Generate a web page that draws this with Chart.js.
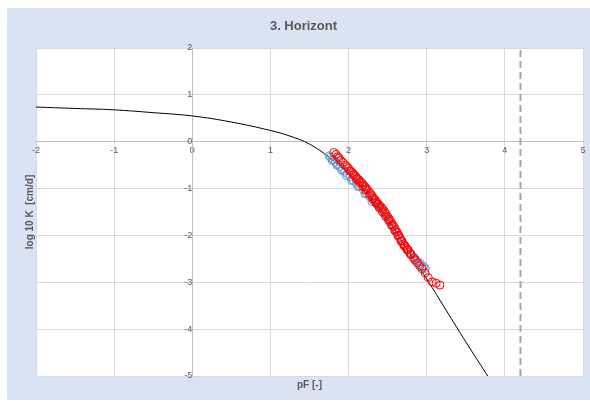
<!DOCTYPE html>
<html>
<head>
<meta charset="utf-8">
<script src="https://cdn.jsdelivr.net/npm/chart.js@4"></script>
<style>
  html, body { margin: 0; padding: 0; background: #fff; }
  #wrap { position: absolute; left: 7px; top: 8px; width: 583px; height: 392px; background: #dae3f3; }
</style>
</head>
<body>
<div id="wrap"><canvas id="chart"></canvas></div>
<script>
// fitted conductivity curve
const curveX = [-2, -1.5, -1, -0.5, 0, 0.5, 1, 1.25, 1.5, 1.75, 2, 2.25, 2.5, 2.75, 3, 3.25, 3.5, 3.8];
const curveY = [0.74, 0.71, 0.68, 0.62, 0.55, 0.42, 0.24, 0.12, -0.05, -0.33, -0.68, -1.1, -1.65, -2.3, -2.93, -3.6, -4.27, -5.05];

// measured points, red series
const redX = [1.81, 1.84, 1.86, 1.88, 1.90, 1.93, 1.96, 1.98, 2.00, 2.03, 2.05, 2.07, 2.09, 2.11, 2.13, 2.15, 2.17, 2.19, 2.21, 2.23,
  2.25, 2.28, 2.30, 2.32, 2.34, 2.36, 2.38, 2.40, 2.42, 2.44, 2.46, 2.48, 2.50, 2.52, 2.54, 2.56, 2.58, 2.60, 2.62, 2.64,
  2.66, 2.68, 2.70, 2.72, 2.74, 2.76, 2.78, 2.80, 2.83, 2.85, 2.88, 2.91, 2.94, 2.98, 3.02, 3.07, 3.12, 3.17,
  2.01, 2.06, 2.10, 2.14, 2.18, 2.22, 2.27, 2.31, 2.35, 2.39, 2.43, 2.47, 2.51, 2.55, 2.59, 2.63, 2.67, 2.71, 2.75, 2.79];
const redY = [-0.23, -0.27, -0.32, -0.35, -0.40, -0.44, -0.50, -0.53, -0.57, -0.63, -0.66, -0.70, -0.74, -0.78, -0.81, -0.85, -0.88, -0.92, -0.96, -1.00,
  -1.04, -1.10, -1.15, -1.20, -1.24, -1.29, -1.33, -1.37, -1.40, -1.44, -1.49, -1.54, -1.60, -1.65, -1.70, -1.76, -1.81, -1.87, -1.93, -1.99,
  -2.05, -2.11, -2.18, -2.22, -2.27, -2.31, -2.36, -2.41, -2.48, -2.52, -2.58, -2.65, -2.71, -2.80, -2.90, -2.99, -3.02, -3.06,
  -0.62, -0.71, -0.80, -0.87, -0.95, -1.03, -1.13, -1.22, -1.31, -1.40, -1.49, -1.58, -1.67, -1.78, -1.89, -2.00, -2.12, -2.22, -2.31, -2.40];

// measured points, blue series
const blueX = [1.75, 1.77, 1.80, 1.83, 1.86, 1.89, 1.92, 1.95, 1.98, 2.02, 2.06, 2.10, 2.14, 2.19, 2.23, 2.27, 2.32,
  2.36, 2.40, 2.44, 2.48, 2.52, 2.56, 2.60, 2.64, 2.68, 2.72, 2.76, 2.80, 2.84, 2.88, 2.92, 2.96, 2.98,
  1.79, 1.85, 1.91, 1.97, 2.04, 2.12, 2.21, 2.30, 2.86, 2.90, 2.94];
const blueY = [-0.30, -0.33, -0.38, -0.43, -0.48, -0.53, -0.58, -0.63, -0.68, -0.75, -0.82, -0.89, -0.95, -1.03, -1.10, -1.17, -1.25,
  -1.33, -1.42, -1.51, -1.61, -1.71, -1.81, -1.92, -2.02, -2.12, -2.22, -2.31, -2.40, -2.47, -2.54, -2.60, -2.66, -2.70,
  -0.40, -0.50, -0.61, -0.72, -0.83, -0.96, -1.11, -1.28, -2.55, -2.62, -2.68];

// wilting point marker (pF 4.2)
const wiltX = [4.2, 4.2];
const wiltY = [-5, 2];

const xTicks = [-2, -1, 0, 1, 2, 3, 4, 5];
const yTicks = [-5, -4, -3, -2, -1, 0, 1, 2];

const pts = (xs, ys) => xs.map((x, i) => ({ x: x, y: ys[i] }));

const plotBg = {
  id: 'plotBg',
  beforeDraw(chart) {
    const a = chart.chartArea;
    const ctx = chart.ctx;
    ctx.save();
    ctx.fillStyle = '#ffffff';
    ctx.fillRect(a.left, a.top, a.right - a.left, a.bottom - a.top);
    ctx.restore();
  }
};

const txt = '#595959';
const fam = "'Liberation Sans', Arial, sans-serif";

new Chart(document.getElementById('chart'), {
  type: 'scatter',
  data: {
    datasets: [
      {
        label: 'rot',
        data: pts(redX, redY),
        pointStyle: 'circle',
        pointRadius: 4,
        borderColor: '#ff0000',
        backgroundColor: 'rgba(0,0,0,0)',
        borderWidth: 1
      },
      {
        label: 'blau',
        data: pts(blueX, blueY),
        pointRadius: 4,
        borderColor: '#5b9bd5',
        backgroundColor: 'rgba(0,0,0,0)',
        borderWidth: 1
      },
      {
        label: 'Kurve',
        data: pts(curveX, curveY),
        showLine: true,
        pointRadius: 0,
        borderColor: '#000000',
        borderWidth: 1,
        tension: 0.4
      },
      {
        label: 'pF 4.2',
        data: pts(wiltX, wiltY),
        showLine: true,
        pointRadius: 0,
        borderColor: '#a6a6a6',
        borderWidth: 2,
        borderDash: [7, 4]
      }
    ]
  },
  options: {
    responsive: true,
    maintainAspectRatio: false,
    animation: false,
    layout: { padding: { left: 17, right: 7, top: 0, bottom: 9 } },
    plugins: {
      legend: { display: false },
      tooltip: { enabled: false },
      title: {
        display: true,
        text: '3. Horizont',
        color: txt,
        font: { family: fam, size: 13, weight: 'bold' },
        padding: { top: 11, bottom: 13.4 }
      }
    },
    scales: {
      x: {
        type: 'linear',
        min: -2,
        max: 5,
        position: { y: 0 },
        afterBuildTicks: s => { s.ticks = xTicks.map(v => ({ value: v })); },
        ticks: { color: txt, font: { family: fam, size: 9 }, padding: 3 },
        grid: { color: '#d9d9d9', drawTicks: false },
        border: { color: '#bfbfbf' }
      },
      y: {
        type: 'linear',
        min: -5,
        max: 2,
        position: { x: 0 },
        afterBuildTicks: s => { s.ticks = yTicks.map(v => ({ value: v })); },
        ticks: { color: txt, font: { family: fam, size: 9 }, padding: 3 },
        grid: { color: '#d9d9d9', drawTicks: false },
        border: { color: '#bfbfbf' }
      },
      xTitle: {
        type: 'linear',
        axis: 'x',
        position: 'bottom',
        ticks: { display: false },
        grid: { display: false, drawTicks: false },
        border: { display: false },
        title: {
          display: true,
          text: 'pF [-]',
          color: txt,
          font: { family: fam, size: 10, weight: 'bold' },
          padding: { top: 3, bottom: 0 }
        }
      },
      yTitle: {
        type: 'linear',
        axis: 'y',
        position: 'left',
        ticks: { display: false },
        grid: { display: false, drawTicks: false },
        border: { display: false },
        title: {
          display: true,
          text: 'log 10 K  [cm/d]',
          color: txt,
          font: { family: fam, size: 10, weight: 'bold' },
          padding: { top: 0, bottom: 0 }
        }
      }
    }
  },
  plugins: [plotBg]
});
</script>
</body>
</html>
